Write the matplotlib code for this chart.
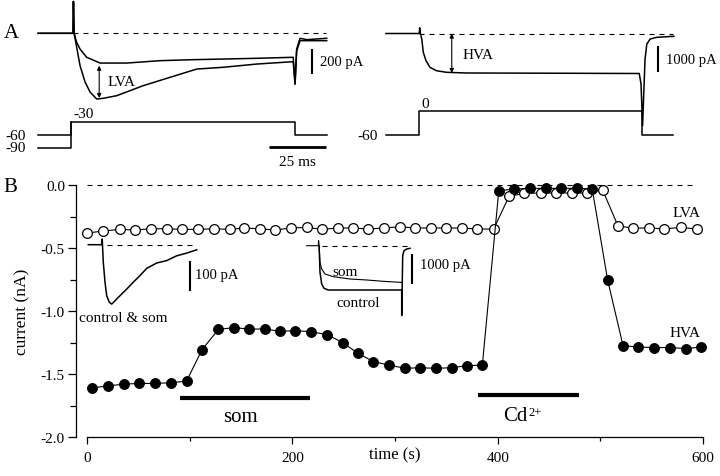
import matplotlib
matplotlib.use("Agg")
import matplotlib.pyplot as plt
from matplotlib.ticker import MultipleLocator, FormatStrFormatter

plt.rcParams["font.family"] = ["Liberation Serif", "DejaVu Serif"]
plt.rcParams["axes.unicode_minus"] = False

W, H = 720, 477

# ── panel A, left: LVA protocol (time ms, current pA, voltage mV) ─────────
a1_upper_t = [-14.3, 1.0, 1.2, 1.5, 2.6, 4.1, 7.0, 12.9, 24.6, 39.2, 53.6, 66.8, 81.6, 97.6, 98.4, 99.1, 100.6, 103.5, 112.3]
a1_upper_i = [0, 0, 255, 0, -72, -126, -192, -238, -238, -219, -211, -206, -200, -192, -406, -126, -40, -51, -40]
a1_lower_t = [-14.3, 1.0, 1.2, 1.5, 4.1, 6.3, 8.5, 11.4, 14.3, 20.2, 31.8, 43.6, 55.3, 66.8, 81.6, 97.6, 98.4, 99.1, 100.6, 112.3]
a1_lower_i = [0, 0, 255, 0, -259, -390, -470, -526, -520, -499, -419, -352, -286, -272, -246, -227, -406, -142, -59, -59]
a1_v60_t = [-14.3, 0, 0, 98.4, 98.4, 112.3]
a1_v60_v = [-60, -60, -30, -30, -60, -60]
a1_v90_t = [-14.3, 0, 0]
a1_v90_v = [-90, -90, -30]

# ── panel A, right: HVA protocol ──────────────────────────────────────────
a2_t = [-15, 0, 0.15, 0.5, 1.1, 1.8, 3.0, 4.8, 7.7, 12.2, 21.2, 58.8, 98.9, 99.7, 100.4, 101.5, 102.3, 103.8, 106.8, 114.5]
a2_i = [0, 0, 214, 0, -207, -707, -1023, -1271, -1399, -1459, -1485, -1493, -1504, -1900, -3467, -959, -395, -207, -143, -105]
a2_v_t = [-15, 0, 0, 100, 100, 114]
a2_v_v = [-60, -60, 0, 0, -60, -60]

# ── panel B: peak currents over time ──────────────────────────────────────
lva_t = [0, 16, 32, 47, 62, 78, 93, 108, 124, 139, 153, 168, 183, 199, 214, 229, 244, 259, 274, 289,
         305, 319, 335, 350, 365, 380, 396, 411, 426, 442, 457, 472, 487, 502, 517, 532, 547, 562, 578, 594]
lva_i = [-0.381, -0.365, -0.352, -0.357, -0.347, -0.347, -0.352, -0.352, -0.347, -0.352, -0.341, -0.347,
         -0.357, -0.341, -0.336, -0.352, -0.341, -0.341, -0.349, -0.341, -0.331, -0.341, -0.341, -0.341,
         -0.341, -0.349, -0.349, -0.090, -0.066, -0.063, -0.063, -0.063, -0.063, -0.037, -0.323, -0.344,
         -0.339, -0.349, -0.336, -0.349]
hva_t = [5, 20, 36, 51, 66, 82, 97, 112, 128, 143, 158, 173, 188, 203, 218, 234, 249, 264, 279, 294,
         310, 324, 340, 355, 370, 385, 401, 416, 431, 447, 462, 477, 492, 507, 522, 537, 552, 568, 583, 598]
hva_i = [-1.610, -1.595, -1.580, -1.575, -1.575, -1.569, -1.556, -1.307, -1.146, -1.132, -1.143, -1.143,
         -1.161, -1.156, -1.164, -1.188, -1.251, -1.336, -1.402, -1.429, -1.455, -1.450, -1.455, -1.450,
         -1.434, -1.429, -0.045, -0.032, -0.026, -0.026, -0.026, -0.026, -0.032, -0.754, -1.275, -1.286,
         -1.290, -1.290, -1.298, -1.286]
som_bar = (90.6, 217.0)
cd_bar = (381.0, 479.4)

# inset traces (ms, pA)
ins1_t = [-13.4, 0, 0.5, 1.6, 3.3, 5.0, 7.6, 10.0, 13.3, 18.3, 25.0, 31.6, 38.3, 45.0, 55.0, 65.0, 75.0, 85.0, 95.0]
ins1_i = [0, 0, 19, -59, -125, -170, -192, -198, -187, -170, -148, -125, -103, -79, -61, -53, -37, -28, -17]
ins2_som_t = [-11.6, 0, 0.3, 0.8, 1.7, 3.4, 6.7, 15, 31.7, 48.4, 65, 81.7, 83.4]
ins2_som_i = [0, 0, 167, 0, -553, -777, -943, -1033, -1110, -1143, -1187, -1220, -1230]
ins2_ctl_t = [0.8, 1.7, 3.4, 5.7, 10, 31.7, 81.7, 83.4, 83.4, 84.4, 85.7, 88.4, 91.7]
ins2_ctl_i = [0, -887, -1277, -1420, -1477, -1477, -1477, -1477, -2330, -333, -167, -110, -87]

LW = 1.1
DASH = (0, (4.5, 4.5))


def trace_axes(fig, box, x0px, xscale, y0px, yscale):
    """axes (axis off) whose data maps to pixels: px = x0px + x*xscale, py = y0px - y*yscale"""
    l, t, r, b = box
    ax = fig.add_axes([l / W, 1 - b / H, (r - l) / W, (b - t) / H])
    ax.set_xlim((l - x0px) / xscale, (r - x0px) / xscale)
    ax.set_ylim((y0px - b) / yscale, (y0px - t) / yscale)
    ax.axis("off")
    return ax


def dbl_arrow(ax, x, y1, y2):
    ax.annotate("", xy=(x, y2), xytext=(x, y1),
                arrowprops=dict(arrowstyle="<|-|>", lw=0.8, color="k",
                                mutation_scale=6, shrinkA=0, shrinkB=0))


fig = plt.figure(figsize=(W / 100, H / 100), dpi=100)

# ── B ─────────────────────────────────────────────────────────────────────
axb = fig.add_axes([76 / W, 1 - 438 / H, (713 - 76) / W, (438 - 180) / H])
axb.set_xlim(-10.7, 609.6)
axb.set_ylim(-2.0, 0.048)
axb.hlines(0, 0, 590, colors="k", lw=0.8, linestyles=DASH)
axb.plot(lva_t, lva_i, "-o", color="k", lw=0.8, ms=7.0, mfc="white", mec="k", mew=0.9, zorder=3)
axb.plot(hva_t, hva_i, "-o", color="k", lw=0.8, ms=7.2, mfc="k", mec="k", mew=0.6, zorder=4)
axb.hlines(-1.693, *som_bar, colors="k", lw=3)
axb.hlines(-1.667, *cd_bar, colors="k", lw=3)
axb.text(149, -1.84, "som", fontsize=15, ha="center", va="center")
axb.text(429.4, -1.83, "Cd", fontsize=15, ha="right", va="center")
axb.text(429.4, -1.80, "2+", fontsize=9, ha="left", va="center")
axb.text(597, -0.217, "LVA", fontsize=11, ha="right", va="center")
axb.text(597, -1.17, "HVA", fontsize=11, ha="right", va="center")
axb.text(300, -2.137, "time (s)", fontsize=12, ha="center", va="center")

for s in ("top", "right"):
    axb.spines[s].set_visible(False)
axb.spines["left"].set_bounds(-2.0, 0.0)
axb.spines["bottom"].set_bounds(0, 600)
axb.spines["left"].set_linewidth(0.9)
axb.spines["bottom"].set_linewidth(0.9)
axb.xaxis.set_major_locator(MultipleLocator(200))
axb.xaxis.set_minor_locator(MultipleLocator(100))
axb.yaxis.set_major_locator(MultipleLocator(0.5))
axb.yaxis.set_minor_locator(MultipleLocator(0.25))
axb.yaxis.set_major_formatter(FormatStrFormatter("%.1f"))
axb.tick_params(axis="x", which="major", length=5, width=0.9, pad=5, labelsize=11)
axb.tick_params(axis="x", which="minor", length=3, width=0.9)
axb.tick_params(axis="y", which="major", length=6, width=0.9, pad=2, labelsize=11)
axb.tick_params(axis="y", which="minor", length=4, width=0.9)
fig.text(22 / W, 1 - 311.7 / H, "current (nA)", rotation=90, fontsize=12.5, ha="center", va="center")

# inset 1
ai1 = trace_axes(fig, (80, 232, 240, 330), 101.7, 1.0, 245.7, 0.3)
ai1.plot(ins1_t, ins1_i, color="k", lw=LW)
ai1.hlines(0, 5, 93.3, colors="k", lw=0.8, linestyles=DASH)
ai1.vlines(88.3, -153, -53, colors="k", lw=1.5)
ai1.text(93.3, -101, "100 pA", fontsize=10.5, ha="left", va="center")
ai1.text(21.3, -242, "control & som", fontsize=11, ha="center", va="center")

# inset 2
ai2 = trace_axes(fig, (300, 232, 470, 325), 318.3, 1.0, 246.7, 0.03)
ai2.plot(ins2_som_t, ins2_som_i, color="k", lw=0.8)
ai2.plot(ins2_ctl_t, ins2_ctl_i, color="k", lw=LW)
ai2.hlines(0, 3.4, 91.7, colors="k", lw=0.8, linestyles=DASH)
ai2.vlines(93.4, -1277, -277, colors="k", lw=1.5)
ai2.text(101.7, -610, "1000 pA", fontsize=10.5, ha="left", va="center")
ai2.text(26.5, -866, "som", fontsize=11, ha="center", va="center")
ai2.text(39.7, -1885, "control", fontsize=11, ha="center", va="center")

# ── A left ────────────────────────────────────────────────────────────────
aa1 = trace_axes(fig, (30, 0, 345, 110), 70.7, 2.28, 34.3, 0.125)
aa1.plot(a1_upper_t, a1_upper_i, color="k", lw=LW)
aa1.plot(a1_lower_t, a1_lower_i, color="k", lw=LW)
aa1.hlines(0, 1.1, 112, colors="k", lw=0.8, linestyles=DASH)
dbl_arrow(aa1, 12.5, -259, -518)
aa1.text(16, -382, "LVA", fontsize=11, ha="left", va="center")
aa1.vlines(105.7, -326, -126, colors="k", lw=1.5)
aa1.text(109.3, -222, "200 pA", fontsize=10.5, ha="left", va="center")

av1 = trace_axes(fig, (0, 105, 345, 175), 70.7, 2.28, 110.2, 0.43)
av1.plot(a1_v60_t, a1_v60_v, color="k", lw=LW)
av1.plot(a1_v90_t, a1_v90_v, color="k", lw=LW)
av1.text(-19.5, -60, "-60", fontsize=11, ha="right", va="center")
av1.text(-19.5, -90, "-90", fontsize=11, ha="right", va="center")
av1.text(1, -9, "-30", fontsize=11, ha="left", va="center")
av1.hlines(-87.2, 87, 112, colors="k", lw=2)
av1.text(99.5, -120.5, "25 ms", fontsize=11, ha="center", va="center")

# ── A right ───────────────────────────────────────────────────────────────
aa2 = trace_axes(fig, (370, 0, 720, 140), 419.3, 2.224, 34.5, 1 / 37.6)
aa2.plot(a2_t, a2_i, color="k", lw=LW)
aa2.hlines(0, 0, 114, colors="k", lw=0.8, linestyles=DASH)
dbl_arrow(aa2, 14.6, 0, -1485)
aa2.text(19.5, -797, "HVA", fontsize=11, ha="left", va="center")
aa2.vlines(107.2, -1459, -459, colors="k", lw=1.5)
aa2.text(110.9, -959, "1000 pA", fontsize=10.5, ha="left", va="center")

av2 = trace_axes(fig, (340, 95, 720, 175), 419.3, 2.224, 111.7, 0.405)
av2.plot(a2_v_t, a2_v_v, color="k", lw=LW)
av2.text(-18.6, -60, "-60", fontsize=11, ha="right", va="center")
av2.text(2.8, 19, "0", fontsize=11, ha="center", va="center")

fig.text(11 / W, 1 - 33 / H, "A", fontsize=15, ha="center", va="center")
fig.text(10 / W, 1 - 188 / H, "B", fontsize=15, ha="center", va="center")

fig.savefig("out.png", dpi=100)
